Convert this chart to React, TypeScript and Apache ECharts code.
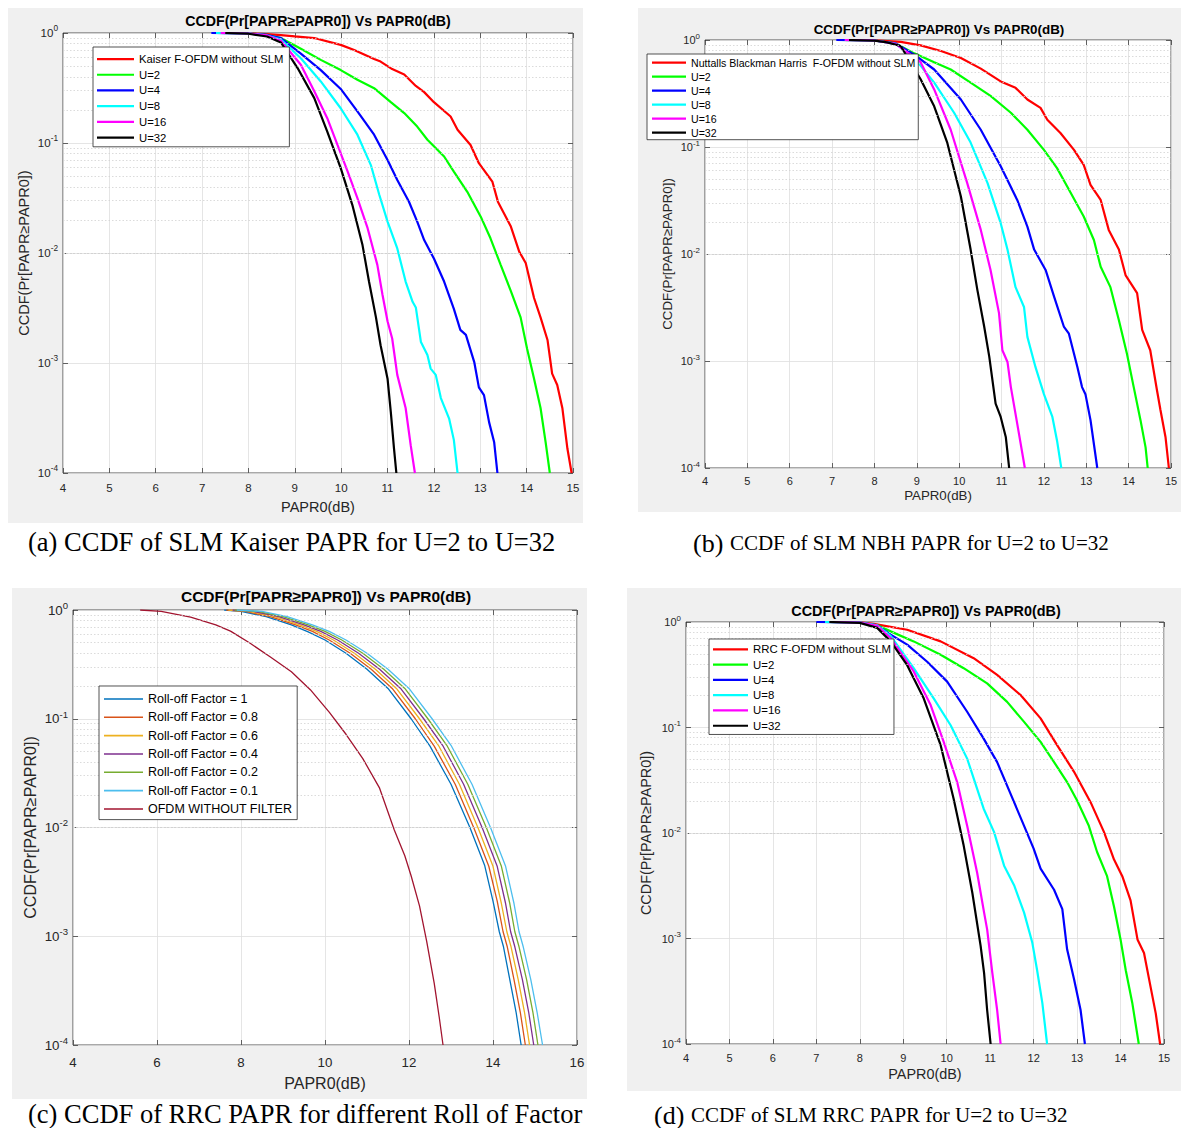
import React, { useEffect, useRef } from "react";
import * as echarts from "echarts";

// ---------------- DATA (PAPR0 in dB, CCDF) ----------------
// (a) Kaiser
const A_KAISER: number[][] = [[7.5,1],[8.0,0.995],[8.4,0.975],[8.7,0.955],[9.0,0.93],[9.42,0.9],[9.99,0.78],[10.28,0.7],[10.71,0.58],[10.85,0.55],[11.1,0.47],[11.36,0.42],[11.61,0.33],[11.79,0.29],[12.0,0.235],[12.36,0.174],[12.51,0.132],[12.79,0.096],[12.97,0.0655],[13.26,0.0446],[13.38,0.0293],[13.66,0.0174],[13.84,0.0103],[13.98,0.0081],[14.16,0.0039],[14.3,0.0026],[14.45,0.00162],[14.55,0.0008],[14.66,0.00063],[14.77,0.00039],[14.88,0.000166],[14.97,0.0001]];
const A_U2: number[][] = [[7.4,1],[8.0,0.99],[8.4,0.96],[8.7,0.9],[9.13,0.72],[9.56,0.57],[9.99,0.46],[10.35,0.376],[10.71,0.315],[11.07,0.235],[11.36,0.187],[11.64,0.141],[11.86,0.107],[12.22,0.0754],[12.43,0.055],[12.72,0.036],[13.01,0.0214],[13.22,0.0136],[13.44,0.0078],[13.66,0.0045],[13.87,0.0026],[14.01,0.00135],[14.16,0.00072],[14.3,0.00039],[14.41,0.00019],[14.5,0.0001]];
const A_U4: number[][] = [[7.2,1],[8.0,0.99],[8.4,0.96],[8.7,0.9],[9.13,0.65],[9.56,0.46],[9.99,0.31],[10.35,0.194],[10.71,0.119],[11.0,0.07],[11.21,0.046],[11.46,0.0294],[11.64,0.0193],[11.79,0.0131],[12.0,0.0089],[12.22,0.0055],[12.43,0.0031],[12.57,0.002],[12.69,0.0018],[12.87,0.00102],[12.97,0.0006],[13.08,0.00051],[13.19,0.00029],[13.3,0.00019],[13.37,0.0001]];
const A_U8: number[][] = [[7.3,1],[8.0,0.99],[8.4,0.95],[8.7,0.87],[9.13,0.59],[9.56,0.363],[9.99,0.207],[10.35,0.119],[10.64,0.063],[10.82,0.034],[11.0,0.0193],[11.21,0.011],[11.39,0.0055],[11.54,0.0036],[11.61,0.0032],[11.72,0.00155],[11.86,0.00118],[11.93,0.00089],[12.04,0.00078],[12.15,0.00048],[12.33,0.00031],[12.43,0.0002],[12.51,0.0001]];
const A_U16: number[][] = [[7.4,1],[8.0,0.99],[8.4,0.95],[8.7,0.85],[9.13,0.515],[9.42,0.295],[9.7,0.168],[9.92,0.096],[10.14,0.055],[10.35,0.0316],[10.57,0.0168],[10.78,0.0078],[10.89,0.0042],[11.0,0.0024],[11.1,0.00167],[11.21,0.00078],[11.39,0.00039],[11.5,0.000178],[11.59,0.0001]];
const A_U32: number[][] = [[7.5,1],[8.0,0.985],[8.4,0.93],[8.7,0.82],[9.06,0.48],[9.42,0.256],[9.7,0.127],[9.99,0.059],[10.24,0.0274],[10.46,0.0118],[10.6,0.0055],[10.75,0.0026],[10.85,0.00145],[11.0,0.00072],[11.07,0.00036],[11.14,0.000166],[11.19,0.0001]];

// (b) Nuttall Blackman Harris
const B_NBH: number[][] = [[7.3,1],[8.0,0.99],[8.62,0.96],[9.09,0.89],[9.57,0.79],[10.04,0.68],[10.51,0.54],[10.98,0.41],[11.33,0.357],[11.61,0.278],[11.92,0.232],[12.08,0.18],[12.39,0.135],[12.71,0.094],[12.94,0.068],[13.1,0.0443],[13.34,0.032],[13.53,0.0168],[13.77,0.011],[13.93,0.0063],[14.2,0.0043],[14.32,0.00195],[14.51,0.00126],[14.67,0.00053],[14.75,0.00035],[14.87,0.000195],[14.95,0.0001]];
const B_U2: number[][] = [[7.2,1],[8.0,0.99],[8.5,0.93],[8.94,0.75],[9.41,0.62],[9.8,0.53],[10.27,0.4],[10.74,0.3],[11.22,0.209],[11.61,0.145],[12.0,0.094],[12.31,0.0635],[12.55,0.0427],[12.94,0.0224],[13.18,0.0135],[13.34,0.0076],[13.57,0.0049],[13.77,0.0024],[13.96,0.00117],[14.12,0.00057],[14.28,0.00028],[14.4,0.000156],[14.45,0.0001]];
const B_U4: number[][] = [[7.1,1],[8.0,0.99],[8.5,0.93],[8.94,0.73],[9.41,0.53],[10.04,0.278],[10.51,0.145],[10.98,0.066],[11.37,0.032],[11.61,0.018],[11.77,0.011],[12.04,0.0071],[12.24,0.004],[12.47,0.0021],[12.59,0.0018],[12.79,0.00088],[12.9,0.00057],[12.98,0.00049],[13.1,0.00028],[13.26,0.0001]];
const B_U8: number[][] = [[7.3,1],[8.0,0.99],[8.5,0.92],[8.94,0.68],[9.41,0.4],[9.88,0.209],[10.27,0.11],[10.67,0.046],[10.98,0.0194],[11.14,0.011],[11.33,0.0049],[11.53,0.0032],[11.61,0.00168],[11.8,0.00088],[12.0,0.00049],[12.2,0.0003],[12.31,0.00018],[12.41,0.0001]];
const B_U16: number[][] = [[7.3,1],[8.0,0.99],[8.5,0.92],[9.09,0.62],[9.41,0.345],[9.8,0.145],[10.19,0.046],[10.51,0.0168],[10.74,0.0071],[10.94,0.0028],[11.02,0.00126],[11.14,0.00098],[11.22,0.00057],[11.37,0.00026],[11.55,0.0001]];
const B_U32: number[][] = [[7.4,1],[8.0,0.985],[8.3,0.95],[8.62,0.88],[9.09,0.43],[9.41,0.24],[9.72,0.109],[10.04,0.0345],[10.27,0.011],[10.43,0.0046],[10.59,0.0021],[10.71,0.0011],[10.86,0.0004],[10.98,0.0003],[11.1,0.000195],[11.18,0.0001]];

// (c) RRC, roll-off factors
const C_R10: number[][] = [[7.6,1],[8.0,0.97],[8.6,0.87],[9.2,0.73],[9.6,0.63],[10.0,0.53],[10.5,0.4],[11.0,0.285],[11.5,0.19],[12.05,0.1],[12.5,0.056],[13.0,0.025],[13.45,0.01],[13.8,0.0045],[14.0,0.0021],[14.15,0.0011],[14.25,0.0008],[14.4,0.0004],[14.55,0.0002],[14.67,0.0001]];
const C_R08: number[][] = [[7.65,1],[8.1,0.97],[8.7,0.87],[9.3,0.73],[9.7,0.635],[10.1,0.53],[10.6,0.4],[11.1,0.285],[11.6,0.19],[12.15,0.1],[12.6,0.056],[13.1,0.025],[13.55,0.0098],[13.9,0.0044],[14.1,0.0021],[14.24,0.0011],[14.34,0.0008],[14.5,0.0004],[14.65,0.0002],[14.77,0.0001]];
const C_R06: number[][] = [[7.7,1],[8.2,0.97],[8.8,0.87],[9.4,0.73],[9.8,0.635],[10.2,0.53],[10.7,0.4],[11.2,0.285],[11.7,0.19],[12.25,0.1],[12.7,0.057],[13.2,0.025],[13.65,0.0098],[14.0,0.0044],[14.2,0.002],[14.33,0.0011],[14.43,0.0008],[14.6,0.0004],[14.75,0.0002],[14.87,0.0001]];
const C_R04: number[][] = [[7.8,1],[8.3,0.97],[8.9,0.87],[9.5,0.73],[9.9,0.635],[10.3,0.53],[10.8,0.4],[11.3,0.285],[11.8,0.19],[12.35,0.1],[12.8,0.057],[13.3,0.025],[13.75,0.0098],[14.1,0.0044],[14.3,0.002],[14.42,0.0011],[14.52,0.0008],[14.7,0.0004],[14.85,0.0002],[14.97,0.0001]];
const C_R02: number[][] = [[7.85,1],[8.4,0.97],[9.0,0.87],[9.6,0.73],[10.0,0.635],[10.4,0.53],[10.9,0.4],[11.4,0.285],[11.9,0.19],[12.45,0.1],[12.9,0.057],[13.4,0.025],[13.85,0.0098],[14.2,0.0044],[14.4,0.002],[14.52,0.0011],[14.62,0.0008],[14.8,0.0004],[14.95,0.0002],[15.07,0.0001]];
const C_R01: number[][] = [[7.9,1],[8.5,0.97],[9.1,0.87],[9.7,0.73],[10.1,0.635],[10.5,0.53],[11.0,0.4],[11.5,0.285],[12.0,0.19],[12.55,0.1],[13.0,0.057],[13.5,0.025],[13.95,0.0098],[14.3,0.0044],[14.5,0.002],[14.62,0.0011],[14.72,0.0008],[14.9,0.0004],[15.05,0.0002],[15.18,0.0001]];
const C_OFDM: number[][] = [[5.6,1],[6.1,0.97],[6.8,0.86],[7.4,0.73],[7.75,0.64],[8.2,0.5],[8.7,0.37],[9.2,0.27],[9.65,0.185],[10.1,0.115],[10.5,0.072],[10.9,0.043],[11.3,0.023],[11.65,0.0095],[11.9,0.0055],[12.05,0.0036],[12.25,0.0019],[12.42,0.0009],[12.6,0.00037],[12.72,0.00018],[12.81,0.0001]];

// (d) RRC with SLM
const D_RRC: number[][] = [[7.3,1],[8.0,0.99],[8.32,0.96],[9.09,0.845],[9.86,0.655],[10.62,0.454],[11.16,0.315],[11.7,0.203],[12.16,0.122],[12.54,0.068],[12.93,0.038],[13.31,0.0196],[13.62,0.0102],[13.85,0.0056],[14.04,0.0039],[14.23,0.0023],[14.39,0.00098],[14.54,0.00073],[14.69,0.00035],[14.81,0.000195],[14.91,0.0001]];
const D_U2: number[][] = [[7.2,1],[8.0,0.99],[8.4,0.93],[8.71,0.815],[9.24,0.655],[9.86,0.49],[10.39,0.365],[10.93,0.262],[11.39,0.175],[11.78,0.113],[12.16,0.073],[12.47,0.047],[12.77,0.0304],[13.0,0.0203],[13.27,0.0117],[13.46,0.0066],[13.69,0.0039],[13.85,0.002],[14.0,0.00098],[14.12,0.0005],[14.27,0.000245],[14.42,0.0001]];
const D_U4: number[][] = [[7.0,1],[8.0,0.99],[8.4,0.93],[8.71,0.76],[9.09,0.61],[9.55,0.42],[10.01,0.272],[10.47,0.141],[10.85,0.0785],[11.16,0.047],[11.55,0.0196],[11.78,0.0117],[12.0,0.0071],[12.16,0.0046],[12.47,0.0029],[12.66,0.0019],[12.77,0.00079],[12.93,0.00041],[13.08,0.00021],[13.18,0.0001]];
const D_U8: number[][] = [[7.2,1],[8.0,0.985],[8.4,0.93],[8.71,0.74],[9.24,0.365],[9.7,0.189],[10.09,0.105],[10.47,0.0507],[10.85,0.017],[11.09,0.0102],[11.32,0.0049],[11.55,0.0032],[11.78,0.00176],[11.97,0.00091],[12.08,0.0005],[12.2,0.000245],[12.31,0.0001]];
const D_U16: number[][] = [[7.3,1],[8.0,0.985],[8.4,0.92],[8.71,0.705],[9.24,0.34],[9.63,0.163],[9.93,0.073],[10.24,0.0304],[10.47,0.0117],[10.7,0.0042],[10.86,0.00176],[10.93,0.00122],[11.05,0.00047],[11.16,0.00021],[11.24,0.0001]];
const D_U32: number[][] = [[7.3,1],[8.0,0.98],[8.4,0.88],[8.71,0.655],[9.09,0.39],[9.47,0.189],[9.86,0.068],[10.16,0.021],[10.39,0.0076],[10.59,0.0027],[10.78,0.00085],[10.86,0.00047],[10.93,0.00021],[11.01,0.0001]];

const U_NAMES = ["U=2", "U=4", "U=8", "U=16", "U=32"];
const C_NAMES = ["Roll-off Factor = 1", "Roll-off Factor = 0.8", "Roll-off Factor = 0.6", "Roll-off Factor = 0.4", "Roll-off Factor = 0.2", "Roll-off Factor = 0.1", "OFDM WITHOUT FILTER"];
const TITLE = "CCDF(Pr[PAPR\u2265PAPR0]) Vs PAPR0(dB)";
const Y_NAME = "CCDF(Pr[PAPR\u2265PAPR0])";
const X_NAME = "PAPR0(dB)";

// ---------------- STYLE ----------------
const FONT = '"Liberation Sans", Arial, sans-serif';
const SERIF = '"Liberation Serif", "Times New Roman", serif';
const AX = "#262626";
const GRIDC = "#dedede";
const SLM_COLORS = ["#ff0000", "#00ff00", "#0000ff", "#00ffff", "#ff00ff", "#000000"];
const C_COLORS = ["#0072BD", "#D95319", "#EDB120", "#7E2F8E", "#77AC30", "#4DBEEE", "#A2142F"];

type Panel = {
  grid: { left: number; top: number; width: number; height: number };
  xmax: number; xint: number;
  tickFs: number; xMargin: number; nameFs: number; xNameGap: number; yNameGap: number;
};

const PANELS: Panel[] = [
  { grid: { left: 63, top: 33, width: 510, height: 440 }, xmax: 15, xint: 1, tickFs: 11.5, xMargin: 9, nameFs: 14.5, xNameGap: 26, yNameGap: 32 },
  { grid: { left: 705, top: 40, width: 466, height: 428 }, xmax: 15, xint: 1, tickFs: 11, xMargin: 7.5, nameFs: 13.3, xNameGap: 21, yNameGap: 31.5 },
  { grid: { left: 73, top: 610, width: 504, height: 435 }, xmax: 16, xint: 2, tickFs: 13.3, xMargin: 11, nameFs: 16, xNameGap: 30, yNameGap: 35 },
  { grid: { left: 686, top: 622, width: 478, height: 422 }, xmax: 15, xint: 1, tickFs: 11, xMargin: 8.5, nameFs: 14.4, xNameGap: 23, yNameGap: 33.5 },
];

function minorValues(): number[] {
  const out: number[] = [];
  for (let k = -4; k < 0; k++) for (let m = 2; m <= 9; m++) out.push(m * Math.pow(10, k));
  return out;
}

function buildOption() {
  const xAxis: any[] = [];
  const yAxis: any[] = [];
  const series: any[] = [];
  const tick = { inside: true, length: 5, lineStyle: { color: AX, width: 0.7 } };

  PANELS.forEach((p, i) => {
    xAxis.push({
      type: "value", gridIndex: i, min: 4, max: p.xmax, interval: p.xint, position: "bottom",
      name: X_NAME, nameLocation: "middle", nameGap: p.xNameGap,
      nameTextStyle: { fontSize: p.nameFs, color: AX, fontFamily: FONT },
      axisLine: { show: false }, axisTick: tick,
      axisLabel: { fontSize: p.tickFs, color: AX, margin: p.xMargin, fontFamily: FONT },
      splitLine: { show: true, lineStyle: { color: GRIDC, width: 0.8 } },
    });
    xAxis.push({
      type: "value", gridIndex: i, min: 4, max: p.xmax, interval: p.xint, position: "top",
      axisLine: { show: false }, axisTick: tick, axisLabel: { show: false }, splitLine: { show: false },
    });
    const sup = p.tickFs * 0.72;
    yAxis.push({
      type: "log", logBase: 10, gridIndex: i, min: 0.0001, max: 1, position: "left",
      name: Y_NAME, nameLocation: "middle", nameGap: p.yNameGap,
      nameTextStyle: { fontSize: p.nameFs, color: AX, fontFamily: FONT },
      axisLine: { show: false }, axisTick: tick,
      axisLabel: {
        margin: 5, color: AX,
        formatter: (v: number) => `{m|10}{e|${Math.round(Math.log10(v))}}`,
        rich: {
          m: { fontSize: p.tickFs, color: AX, fontFamily: FONT },
          e: { fontSize: sup, color: AX, fontFamily: FONT, padding: [0, 0, p.tickFs * 0.7, 0] },
        },
      },
      splitLine: { show: true, lineStyle: { color: GRIDC, width: 0.8 } },
    });
    yAxis.push({
      type: "log", logBase: 10, gridIndex: i, min: 0.0001, max: 1, position: "right",
      axisLine: { show: false }, axisTick: tick, axisLabel: { show: false }, splitLine: { show: false },
    });
    series.push({
      type: "line", name: "minor-grid-" + i, data: [], xAxisIndex: i * 2, yAxisIndex: i * 2,
      silent: true, z: 1, showSymbol: false,
      markLine: {
        silent: true, symbol: ["none", "none"], label: { show: false }, animation: false,
        lineStyle: { color: "#d2d2d2", type: [1.5, 2], width: 0.8 },
        emphasis: { disabled: true },
        data: minorValues().map((v) => ({ yAxis: v })),
      },
    });
  });

  const add = (gi: number, name: string, data: number[][], color: string, width: number) => {
    series.push({
      type: "line", name, data, xAxisIndex: gi * 2, yAxisIndex: gi * 2,
      showSymbol: false, symbol: "none", clip: true, z: 3,
      lineStyle: { color, width }, itemStyle: { color },
      emphasis: { disabled: true },
    });
  };

  const A_NAMES = ["Kaiser F-OFDM without SLM", ...U_NAMES];
  const B_NAMES = ["Nuttalls Blackman Harris  F-OFDM without SLM", ...U_NAMES];
  const D_NAMES = ["RRC F-OFDM without SLM", ...U_NAMES];
  [A_KAISER, A_U2, A_U4, A_U8, A_U16, A_U32].forEach((d, k) => add(0, A_NAMES[k], d, SLM_COLORS[k], 2.2));
  [B_NBH, B_U2, B_U4, B_U8, B_U16, B_U32].forEach((d, k) => add(1, B_NAMES[k], d, SLM_COLORS[k], 2.2));
  [C_R10, C_R08, C_R06, C_R04, C_R02, C_R01, C_OFDM].forEach((d, k) => add(2, C_NAMES[k], d, C_COLORS[k], 1.3));
  [D_RRC, D_U2, D_U4, D_U8, D_U16, D_U32].forEach((d, k) => add(3, D_NAMES[k], d, SLM_COLORS[k], 2.2));

  const legendBase = {
    orient: "vertical", backgroundColor: "#ffffff", borderColor: AX, borderWidth: 0.8,
    borderRadius: 0, selectedMode: false, z: 10, itemGap: 0, itemHeight: 14,
  };
  const icon = (w: number, lw: number) => `path://M0,0H${w}V${lw}H0Z`;
  const legend = [
    { ...legendBase, left: 93, top: 47, padding: [4.2, 6, 1.4, 4], itemWidth: 37, icon: icon(37, 2.2),
      textStyle: { fontSize: 11.3, lineHeight: 15.7, color: "#000", fontFamily: FONT }, data: A_NAMES },
    { ...legendBase, left: 647, top: 54, padding: [1.7, 3, 0, 5], itemWidth: 34, icon: icon(34, 2.2),
      textStyle: { fontSize: 10.6, lineHeight: 14, color: "#000", fontFamily: FONT }, data: B_NAMES },
    { ...legendBase, left: 99, top: 686, padding: [3.8, 5, 1.5, 5], itemWidth: 39, icon: icon(39, 1.6),
      textStyle: { fontSize: 12.5, lineHeight: 18.33, color: "#000", fontFamily: FONT }, data: C_NAMES },
    { ...legendBase, left: 709, top: 639, padding: [2.8, 3, 1.1, 4], itemWidth: 35, icon: icon(35, 2.2),
      textStyle: { fontSize: 11.4, lineHeight: 15.26, color: "#000", fontFamily: FONT }, data: D_NAMES },
  ];

  const bg = (x: number, y: number, w: number, h: number) => ({
    type: "rect", z: -10, silent: true, shape: { x, y, width: w, height: h }, style: { fill: "#f0f0f0" },
  });
  const title = (x: number, y: number, fs: number) => ({
    type: "text", x, y, z: 10, silent: true,
    style: { text: TITLE, fontSize: fs, fontWeight: "bold", fontFamily: FONT, fill: "#000", align: "center", verticalAlign: "middle" },
  });
  const caption = (x: number, y: number, text: string, rich?: any) => ({
    type: "text", x, y, z: 10, silent: true,
    style: { text, fontSize: 26.5, lineHeight: 26, fontFamily: SERIF, fill: "#000", align: "left", verticalAlign: "middle", rich },
  });
  const capRich = {
    a: { fontSize: 26, lineHeight: 26, fontFamily: SERIF, fill: "#000" },
    b: { fontSize: 21, lineHeight: 26, fontFamily: SERIF, fill: "#000" },
  };

  const graphic = [
    bg(8, 8, 575, 515),
    bg(638, 8, 543, 504),
    bg(12, 588, 575, 511),
    bg(627, 588, 554, 503),
    title(318, 21, 14.2),
    title(939, 29, 13.4),
    title(326, 596, 15.5),
    title(926, 611, 14.4),
    caption(28, 542, "(a) CCDF of SLM Kaiser PAPR for U=2 to U=32"),
    caption(693, 543, "{a|(b)} {b|CCDF of SLM NBH PAPR for U=2 to U=32}", capRich),
    caption(28, 1114, "(c) CCDF of RRC PAPR for different Roll of Factor"),
    caption(654, 1115, "{a|(d)} {b|CCDF of SLM RRC PAPR for U=2 to U=32}", capRich),
  ];

  return {
    animation: false,
    backgroundColor: "#ffffff",
    textStyle: { fontFamily: FONT },
    grid: PANELS.map((p) => ({ ...p.grid, show: true, backgroundColor: "#ffffff", borderColor: AX, borderWidth: 0.8 })),
    xAxis, yAxis, series, legend, graphic,
  };
}

export default function App() {
  const ref = useRef<HTMLDivElement>(null);
  useEffect(() => {
    if (!ref.current) return;
    const chart = echarts.init(ref.current, undefined, { renderer: "svg" });
    chart.setOption(buildOption() as any);
    return () => chart.dispose();
  }, []);
  return <div ref={ref} style={{ position: "absolute", left: 0, top: 0, width: 1181, height: 1128 }} />;
}
